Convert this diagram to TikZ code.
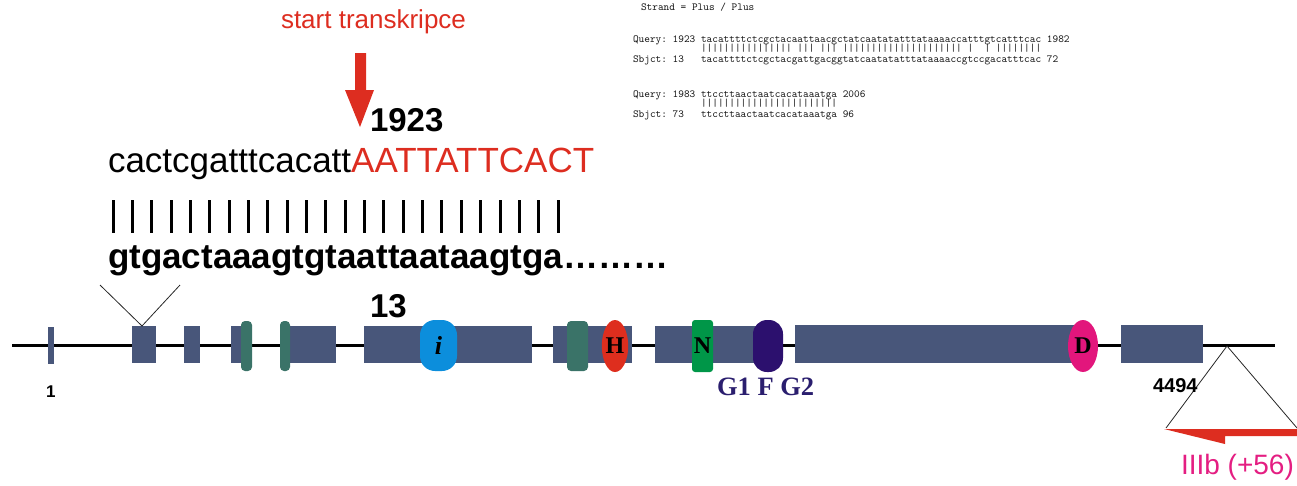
\documentclass[tikz,border=0pt]{standalone}
\usepackage{fontspec}
\setmainfont{Liberation Sans}
\newfontfamily\seriffam{Liberation Serif}
\usetikzlibrary{shapes.geometric}
\definecolor{tred}{RGB}{221,45,32}
\definecolor{exon}{RGB}{72,86,122}
\definecolor{teal}{RGB}{58,115,104}
\definecolor{iblue}{RGB}{12,142,220}
\definecolor{hred}{RGB}{222,46,30}
\definecolor{ngreen}{RGB}{0,150,72}
\definecolor{dpurple}{RGB}{44,16,110}
\definecolor{dmag}{RGB}{226,22,124}
\definecolor{navy}{RGB}{42,30,110}
\definecolor{magtext}{RGB}{228,30,130}
\definecolor{blastgray}{RGB}{20,20,20}
\begin{document}
\begin{tikzpicture}[x=1pt,y=-1pt,
  lbl/.style={inner sep=0pt, outer sep=0pt, anchor=base west},
  blast/.style={lbl, text=blastgray, font=\ttfamily\fontsize{10.8}{12}\selectfont\frenchspacing},
  exonbox/.style={fill=exon},
  tealbar/.style={fill=teal, rounded corners=4pt},
  domtext/.style={font=\seriffam\bfseries\fontsize{24}{26}\selectfont, text=black, inner sep=0pt},
  thinline/.style={line width=0.8pt, black!85}
]
\useasboundingbox (0,0) rectangle (1297,485);

% ---- top labels ----
\node[lbl, text=tred, font=\fontsize{26}{30}\selectfont] (start) at (281,28) {start transkripce};
\fill[tred] (355,53) -- (366,53) -- (366,90) -- (374,90) -- (360,127) coordinate (tip) -- (345,90) -- (355,90) -- cycle;
\node[lbl, font=\bfseries\fontsize{33}{36}\selectfont] (n1923) at (370,131) {1923};

\node[lbl, font=\fontsize{35}{38}\selectfont] (seq1) at (108,172) {cactcgatttcacatt\textcolor{tred}{AATTATTCACT}};
\foreach \k in {0,...,23}{
  \draw[line width=3pt] ({113+19.35*\k},200) -- ({113+19.35*\k},233);
}
\node[lbl, font=\bfseries\fontsize{35}{38}\selectfont] (seq2) at (108,268) {gtgactaaagtgtaattaataagtga………};

% ---- BLAST text ----
\node[blast] (strand) at (641,10) {Strand = Plus / Plus};
\node[blast] (q1) at (633,42) {Query:~1923~tacattttctcgctacaattaacgctatcaatatatttataaaaccatttgtcatttcac~1982};
\node[blast] (m1) at (633,51) {~~~~~~~~~~~~||||||||||||||||~|||~|||~|||||||||||||||||||||~|~~|~||||||||};
\node[blast] (s1) at (633,62) {Sbjct:~13~~~tacattttctcgctacgattgacggtatcaatatatttataaaaccgtccgacatttcac~72};
\node[blast] (q2) at (633,97) {Query:~1983~ttccttaactaatcacataaatga~2006};
\node[blast] (m2) at (633,106) {~~~~~~~~~~~~||||||||||||||||||||||||};
\node[blast] (s2) at (633,117) {Sbjct:~73~~~ttccttaactaatcacataaatga~96};

% ---- gene backbone ----
\coordinate (lineL) at (12,345);
\coordinate (lineR) at (1275,345);
\draw[line width=3pt] (lineL) -- (lineR);

% exons
\fill[exonbox] (48,327) rectangle (54,364);
\fill[exonbox] (132,326) rectangle (156,363);
\fill[exonbox] (184,326) rectangle (200,363);
\fill[exonbox] (231,326) rectangle (246,363);
\fill[exonbox] (285,326) rectangle (336,363);
\fill[exonbox] (364,326) rectangle (532,363);
\fill[exonbox] (553,326) rectangle (632,363);
\fill[exonbox] (655,326) rectangle (770,363);
\fill[exonbox] (795,325) rectangle (1083,363);
\fill[exonbox] (1121,325) rectangle (1203,363);

% domains
\fill[tealbar] (241,321) rectangle (252,371);
\fill[tealbar] (280,321) rectangle (290,371);
\fill[tealbar] (567,321) rectangle (588,371);
\node[domtext, fill=iblue, rounded corners=15pt, minimum width=37pt, minimum height=51pt, font=\seriffam\bfseries\itshape\fontsize{26}{28}\selectfont] (dI) at (438.5,345.5) {i};
\node[domtext, ellipse, fill=hred, minimum width=25pt, minimum height=52pt] (dH) at (615,346) {H};
\node[domtext, fill=ngreen, rounded corners=3pt, minimum width=21pt, minimum height=52pt] (dN) at (702.5,346) {N};
\node[domtext, fill=dpurple, rounded corners=14pt, minimum width=30pt, minimum height=52pt] (dP) at (768,346) {};
\node[domtext, ellipse, fill=dmag, minimum width=30pt, minimum height=52pt] (dD) at (1083,346) {D};

% insertion V and triangle
\coordinate (vL) at (100,285);
\coordinate (vR) at (180,285);
\coordinate (vB) at (142,326);
\draw[thinline] (vL) -- (vB) -- (vR);
\coordinate (tA) at (1227,346);
\coordinate (tL) at (1166,428);
\coordinate (tR) at (1297,428);
\draw[thinline] (tL) -- (tA) -- (tR);
\fill[tred] (1164,429) -- (1297,429) -- (1297,436) -- (1225,436) -- (1225,444) -- cycle;

% labels
\node[lbl, font=\bfseries\fontsize{33}{36}\selectfont] (n13) at (370,317) {13};
\node[lbl, font=\bfseries\fontsize{17}{19}\selectfont] (n1) at (46,397) {1};
\node[lbl, font=\bfseries\fontsize{20}{22}\selectfont] (n4494) at (1153,392) {4494};
\node[lbl, text=navy, font=\seriffam\bfseries\fontsize{26.5}{28}\selectfont] (gfg) at (717,395) {G1 F G2};
\node[lbl, text=magtext, font=\fontsize{28}{30}\selectfont] (iiib) at (1181,474) {IIIb (+56)};
\end{tikzpicture}
\end{document}
